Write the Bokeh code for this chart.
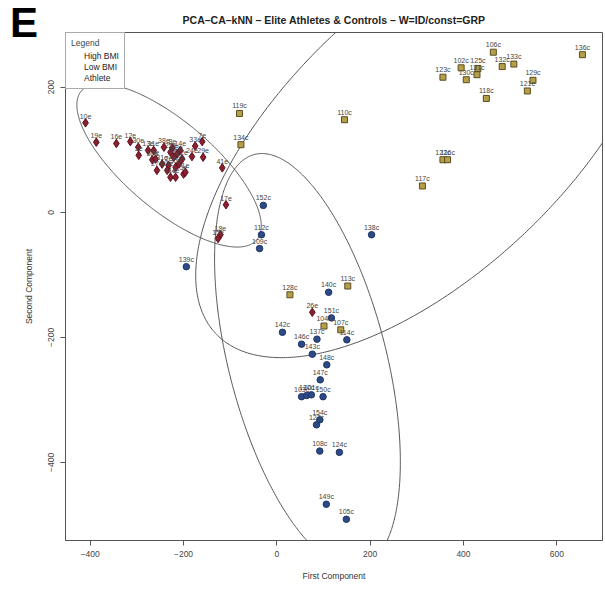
import numpy as np
from bokeh.plotting import figure
from bokeh.models import Range1d, Legend, LegendItem, FixedTicker, ColumnDataSource, Div
from bokeh.layouts import column
from bokeh.core.properties import value
from bokeh.embed import file_html
from bokeh.resources import INLINE

# ---------------- data ----------------
hb_id = ["152c", "112c", "109c", "139c", "138c", "140c", "151c", "114c", "142c", "137c", "146c", "143c",
         "148c", "147c", "103c", "120c", "101c", "150c", "154c", "127c", "108c", "124c", "149c", "105c"]
hb_x = [-29, -33, -37, -194, 203, 111, 117, 150, 12, 86, 53, 76, 107, 93, 53, 64, 74, 99, 92, 85, 92, 134, 106, 149]
hb_y = [11, -36, -58, -87, -36, -128, -169, -204, -192, -203, -211, -227, -244, -268, -295, -293, -292, -295,
        -332, -340, -382, -384, -467, -491]

lb_id = ["136c", "106c", "133c", "132c", "102c", "125c", "131c", "130c", "123c", "118c", "129c", "121c",
         "119c", "110c", "134c", "117c", "122c", "116c", "128c", "113c", "104c", "107c"]
lb_x = [655, 464, 508, 483, 395, 431, 429, 406, 356, 449, 549, 537, -80, 145, -77, 312, 356, 366, 28, 152, 101, 137]
lb_y = [252, 256, 237, 233, 231, 230, 220, 212, 216, 182, 211, 194, 158, 148, 108, 42, 84, 84, -132, -118, -182, -188]

at_id = ["10e", "19e", "16e", "12e", "7e", "33e", "29e", "41e", "17e", "18e", "15e", "26e",
         "30e", "3e", "13e", "36e", "27e", "38e", "8e", "9e", "14e", "22e", "24e", "31e",
         "2e", "35e", "5e", "1e", "21e", "4e", "6e", "11e", "20e", "23e", "25e", "28e"]
at_x = [-410, -387, -344, -314, -160, -175, -158, -117, -109, -121, -126, 76,
        -297, -296, -276, -267, -257, -242, -224, -221, -207, -203, -182, -246,
        -232, -217, -200, -196, -228, -217, -260, -264, -235, -210, -228, -214]
at_y = [143, 112, 110, 113, 113, 106, 88, 71, 12, -36, -42, -160,
        104, 91, 99, 84, 67, 104, 103, 88, 99, 85, 89, 77,
        75, 72, 61, 64, 56, 56, 85, 99, 67, 77, 96, 93]

# ellipses: centre, and two conjugate semi-axis vectors (data units)
ell_center = {"Athlete": (-231, 75), "Low BMI": (323, 123), "High BMI": (65.6, -237.3)}
ell_v1 = {"Athlete": (188, -119), "Low BMI": (-454, -317), "High BMI": (173.6, 0)}
ell_v2 = {"Athlete": (-61, -54), "Low BMI": (202, -161), "High BMI": (97.5, -331.2)}

x_ticks = [-400, -200, 0, 200, 400, 600]
y_ticks = [-400, -200, 0, 200]

FONT = "Liberation Sans"
TITLE = "PCA\u2013CA\u2013kNN \u2013 Elite Athletes & Controls \u2013 W=ID/const=GRP"
PANEL = "E"

# ---------------- figure ----------------
p = figure(width=604, height=590, x_range=Range1d(-453, 698), y_range=Range1d(-525, 287.5),
           output_backend="svg", toolbar_location=None,
           min_border_left=65, min_border_right=2, min_border_top=32, min_border_bottom=50)
p.grid.visible = False
p.outline_line_color = "#555555"
p.outline_line_width = 1

p.title.text = TITLE
p.title.align = "center"
p.title.text_font = FONT
p.title.text_font_size = "10.5px"
p.title.text_font_style = "bold"
p.title.text_color = "#222222"
p.title.standoff = 14

for ax in (p.xaxis[0], p.yaxis[0]):
    ax.axis_line_color = "#555555"
    ax.major_tick_line_color = "#555555"
    ax.minor_tick_line_color = None
    ax.major_tick_out = 5
    ax.major_tick_in = 0
    ax.major_label_text_font = FONT
    ax.major_label_text_font_size = "8.5px"
    ax.major_label_text_color = "#444444"
    ax.axis_label_text_font = FONT
    ax.axis_label_text_font_size = "8.5px"
    ax.axis_label_text_font_style = "normal"
    ax.axis_label_text_color = "#333333"

p.xaxis.ticker = FixedTicker(ticks=x_ticks)
p.yaxis.ticker = FixedTicker(ticks=y_ticks)
p.xaxis.axis_label = "First Component"
p.yaxis.axis_label = "Second Component"
p.xaxis.major_label_standoff = 5
p.xaxis.axis_label_standoff = 11
p.yaxis.major_label_orientation = "vertical"
p.yaxis.major_label_standoff = 6
p.yaxis.axis_label_standoff = 12

# ellipses
t = np.linspace(0, 2 * np.pi, 600)
for k in ell_center:
    cx, cy = ell_center[k]
    ax1, ay1 = ell_v1[k]
    ax2, ay2 = ell_v2[k]
    p.line(cx + ax1 * np.cos(t) + ax2 * np.sin(t), cy + ay1 * np.cos(t) + ay2 * np.sin(t),
           line_color="#555555", line_width=1)

# points
p.scatter(hb_x, hb_y, marker="circle", size=6.5, fill_color="#2c4a87", line_color="#1e3566")
p.scatter(lb_x, lb_y, marker="square", size=6, fill_color="#b5a04a", line_color="#5c4b1e")
p.scatter(at_x, at_y, marker="diamond", size=8.5, fill_color="#8a1f2e", line_color="#5e1020")

# point labels
lab = ColumnDataSource(dict(x=hb_x + lb_x + at_x, y=hb_y + lb_y + at_y, t=hb_id + lb_id + at_id))
p.text(x="x", y="y", text="t", source=lab, text_align="center", text_baseline="bottom",
       y_offset=-4, text_font=value(FONT), text_font_size="7px", text_color="#444444")

# legend
r1 = p.scatter(x=[], y=[], marker="circle", size=5, fill_color=None, line_color="#4a6fc0")
r2 = p.scatter(x=[], y=[], marker="square", size=5, fill_color=None, line_color="#e0c040")
r3 = p.scatter(x=[], y=[], marker="circle", size=5, fill_color=None, line_color="#c0404a")
legend = Legend(items=[LegendItem(label="High BMI", renderers=[r1]),
                       LegendItem(label="Low BMI", renderers=[r2]),
                       LegendItem(label="Athlete", renderers=[r3])],
                title="Legend", location="top_left", margin=0, padding=5, spacing=0,
                label_height=11, glyph_height=11, glyph_width=10, label_standoff=3,
                label_text_font=FONT, label_text_font_size="8.5px", label_text_color="#222222",
                title_text_font=FONT, title_text_font_size="8.5px", title_text_font_style="normal",
                title_standoff=2, border_line_color="#555555", background_fill_alpha=1)
p.add_layout(legend)

# panel letter as an overlaid text element
panel = Div(text=PANEL, styles={"position": "absolute", "left": "10px", "top": "2px", "z-index": "10",
                                "font-family": FONT, "font-size": "42px", "font-weight": "bold",
                                "line-height": "42px", "color": "#000000", "margin": "0", "padding": "0"})

layout = column(p, panel, spacing=0)
open("out.html", "w").write(file_html(layout, INLINE))
